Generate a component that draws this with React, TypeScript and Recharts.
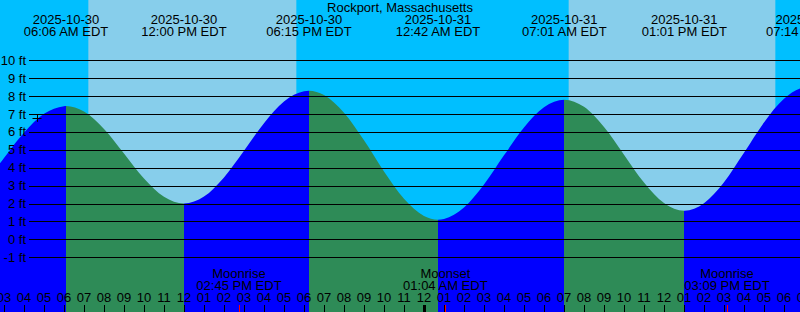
import { AreaChart, Area, XAxis, YAxis, ReferenceArea, ReferenceDot } from 'recharts';

const FONT = '"Liberation Sans", Arial, sans-serif';

// time axis = hours since 2025-10-30 00:00 EDT
const tideHours = [
  2.75, 3, 4, 5, 6, 6.1, 7, 8, 9, 10, 11, 12, 13, 14, 15, 16, 17, 18, 18.25,
  19, 20, 21, 22, 23, 24, 24.7, 25, 26, 27, 28, 29, 30, 31.017, 32, 33, 34, 35, 36,
  37.017, 38, 39, 40, 41, 42, 43, 43.233,
];
const tideFeet = [
  4.18, 4.55, 5.96, 7.01, 7.44, 7.45, 7.14, 6.17, 4.8, 3.4, 2.38, 2.0, 2.39, 3.46, 4.95, 6.49, 7.7, 8.27, 8.3,
  8.06, 7.07, 5.53, 3.79, 2.26, 1.31, 1.1, 1.14, 1.78, 3.06, 4.69, 6.25, 7.38, 7.8, 7.4, 6.27, 4.73, 3.17, 2.03,
  1.6, 2.02, 3.19, 4.83, 6.53, 7.85, 8.48, 8.5,
];

const highHours = [6.1, 18.25, 31.017, 43.233];
const lowHours = [12, 24.7, 37.017];

const extremeHours = [6.1, 12, 18.25, 24.7, 31.017, 37.017, 43.233];
const extremeDates = ['2025-10-30', '2025-10-30', '2025-10-30', '2025-10-31', '2025-10-31', '2025-10-31', '2025-10-31'];
const extremeClock = ['06:06 AM EDT', '12:00 PM EDT', '06:15 PM EDT', '12:42 AM EDT', '07:01 AM EDT', '01:01 PM EDT', '07:14 PM EDT'];

const sunrise = [7.217, 31.233];
const sunset = [17.617, 41.567];

const moonHours = [14.75, 25.067, 39.15];
const moonEvents = ['Moonrise', 'Moonset', 'Moonrise'];
const moonClock = ['02:45 PM EDT', '01:04 AM EDT', '03:09 PM EDT'];

const feetTicks = [-1, 0, 1, 2, 3, 4, 5, 6, 7, 8, 9, 10];
const hourTicks = Array.from({ length: 41 }, (_, i) => i + 3);

const nowHour = 4.65;
const nowFeet = 6.76;

const rows = tideHours.map((t, i) => ({ t, ft: tideFeet[i] }));

// rising water blue, falling water green: hard stops at each high/low
const first = tideHours[0];
const last = tideHours[tideHours.length - 1];
const turns = [...highHours, ...lowHours].filter((t) => t > first && t < last).sort((a, b) => a - b);
const stops: { off: number; color: string }[] = [];
let rising = highHours.includes(turns[0]);
stops.push({ off: 0, color: rising ? '#0000FF' : '#2E8B57' });
turns.forEach((t) => {
  const off = (t - first) / (last - first);
  stops.push({ off, color: rising ? '#0000FF' : '#2E8B57' });
  rising = !rising;
  stops.push({ off, color: rising ? '#0000FF' : '#2E8B57' });
});
stops.push({ off: 1, color: rising ? '#0000FF' : '#2E8B57' });

const txt = { fontFamily: FONT, fontSize: 13, fill: '#000' };

function FeetTick({ y, payload }: any) {
  const yy = Math.round(y) + 0.5;
  return (
    <g>
      <text x={26} y={y + 4.5} textAnchor="end" {...txt}>{`${payload.value} ft`}</text>
      <line x1={29} x2={800} y1={yy} y2={yy} stroke="#000" strokeWidth={1} />
    </g>
  );
}

function BottomTick({ x, payload }: any) {
  const v = payload.value;
  const xx = Math.round(x) + 0.5;
  const m = moonHours.indexOf(v);
  if (m >= 0) {
    return (
      <g>
        <line x1={xx} x2={xx} y1={305} y2={312} stroke="#FF0000" strokeWidth={1} />
        <text x={x} y={278} textAnchor="middle" {...txt}>{moonEvents[m]}</text>
        <text x={x} y={290} textAnchor="middle" {...txt}>{moonClock[m]}</text>
      </g>
    );
  }
  const h = (v % 24) % 12 || 12;
  const midnight = v % 24 === 0;
  return (
    <g>
      <text x={x} y={301.5} textAnchor="middle" {...txt}>{String(h).padStart(2, '0')}</text>
      <line x1={xx} x2={xx} y1={305} y2={312} stroke="#000" strokeWidth={midnight ? 3 : 1} />
    </g>
  );
}

export default function App() {
  return (
    <div style={{ position: 'absolute', left: 0, top: 0, width: 800, height: 312, background: '#00BFFF', overflow: 'hidden' }}>
      <AreaChart width={800} height={312} data={rows} margin={{ top: 0, right: 0, bottom: 0, left: 0 }}>
        <defs>
          <linearGradient id="tideFill" x1="0" y1="0" x2="1" y2="0">
            {stops.map((s, i) => (
              <stop key={i} offset={s.off} stopColor={s.color} />
            ))}
          </linearGradient>
        </defs>
        {sunrise.map((s, i) => (
          <ReferenceArea key={i} x1={s} x2={sunset[i]} fill="#87CEEB" fillOpacity={1} stroke="none" zIndex={-10} />
        ))}
        <XAxis
          dataKey="t"
          type="number"
          domain={[2.8, 42.8]}
          allowDataOverflow
          ticks={[...hourTicks, ...moonHours]}
          interval={0}
          height={1}
          mirror
          axisLine={false}
          tickLine={false}
          tick={<BottomTick />}
        />
        <YAxis
          type="number"
          domain={[-4.06, 13.37]}
          allowDataOverflow
          ticks={feetTicks}
          interval={0}
          width={1}
          mirror
          axisLine={false}
          tickLine={false}
          tick={<FeetTick />}
        />
        <Area
          dataKey="ft"
          type="monotone"
          stroke="none"
          fill="url(#tideFill)"
          fillOpacity={1}
          baseValue="dataMin"
          isAnimationActive={false}
        />
        <ReferenceDot
          x={nowHour}
          y={nowFeet}
          shape={(p: any) => (
            <path d={`M${p.cx - 4.5},${Math.round(p.cy) + 0.5}h9M${Math.round(p.cx) + 0.5},${p.cy - 3.5}v7`} stroke="#000" fill="none" />
          )}
        />
        {extremeHours.map((t, i) => (
          <ReferenceDot
            key={`ex-${i}`}
            x={t}
            y={13}
            ifOverflow="visible"
            shape={(p: any) => (
              <g>
                <text x={p.cx} y={24} textAnchor="middle" {...txt}>{extremeDates[i]}</text>
                <text x={p.cx} y={36} textAnchor="middle" {...txt}>{extremeClock[i]}</text>
              </g>
            )}
          />
        ))}
      </AreaChart>
      <div
        style={{
          position: 'absolute',
          left: 0,
          top: 0,
          width: 800,
          textAlign: 'center',
          fontFamily: FONT,
          fontSize: 13,
          lineHeight: '15px',
          color: '#000',
        }}
      >
        Rockport, Massachusetts
      </div>
    </div>
  );
}
